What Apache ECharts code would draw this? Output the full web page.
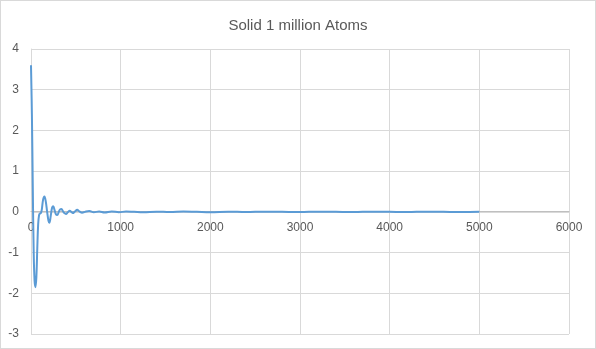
<!DOCTYPE html>
<html><head><meta charset="utf-8">
<script src="https://cdn.jsdelivr.net/npm/echarts@6/dist/echarts.min.js"></script>
<style>
html,body{margin:0;padding:0;background:#fff;}
#c{width:596px;height:349px;box-sizing:border-box;border:1px solid #d9d9d9;}
</style></head>
<body><div id="c"></div>
<script>
const title = "Solid 1 million Atoms";
const xValues = [0,10,20,30,40,50,60,70,80,90,100,110,120,135,150,165,180,195,205,220,235,248,262,278,292,310,325,340,355,372,390,410,432,450,466,490,515,540,570,600,650,700,760,820,900,980,1060,1150,1250,1400,1550,1700,1850,2000,2200,2400,2600,2800,3000,3200,3400,3600,3800,4000,4200,4400,4600,4800,5000];
const yValues = [3.6,2.4,0.6,-1.0,-1.7,-1.85,-1.6,-0.9,-0.3,-0.08,-0.04,-0.03,0.05,0.3,0.38,0.25,0.0,-0.22,-0.27,-0.1,0.1,0.14,0.05,-0.06,-0.08,0.0,0.06,0.07,0.02,-0.03,-0.05,-0.01,0.03,0.0,-0.03,0.01,0.05,0.01,-0.02,0.0,0.02,-0.01,0.01,-0.015,0.01,-0.01,0.01,0.0,-0.01,0.005,-0.005,0.01,0.0,-0.01,0.005,-0.005,0.005,0.0,-0.005,0.005,0.0,-0.005,0.005,0.0,-0.005,0.005,0.0,-0.005,0.0];
const xTicks = {min:0,max:6000,interval:1000};
const yTicks = {min:-3,max:4,interval:1};

const W = 596, H = 349;
const gridTop = 48, gridBottom = 14;
const plotH = H - gridTop - gridBottom;
const zeroOffset = plotH * (0 - yTicks.min) / (yTicks.max - yTicks.min);

const chart = echarts.init(document.getElementById('c'), null, {renderer:'canvas'});
const pts = xValues.map((x,i)=>[x,yValues[i]]);
const txt = '#595959', grid = '#d9d9d9';
chart.setOption({
  animation:false,
  title:{text:title,left:'center',top:12,textStyle:{fontFamily:'Liberation Sans',fontSize:15,fontWeight:'normal',color:txt}},
  grid:{left:30,right:26,top:gridTop,bottom:gridBottom,containLabel:false},
  xAxis:{type:'value',min:xTicks.min,max:xTicks.max,interval:xTicks.interval,position:'bottom',offset:-zeroOffset,
    axisLine:{show:true,onZero:false,lineStyle:{color:'#bfbfbf'}},axisTick:{show:false},
    axisLabel:{color:txt,fontFamily:'Liberation Sans',fontSize:12,margin:11,formatter:v=>String(v)},
    splitLine:{show:true,lineStyle:{color:grid}}},
  yAxis:{type:'value',min:yTicks.min,max:yTicks.max,interval:yTicks.interval,
    axisLine:{show:true,lineStyle:{color:grid}},axisTick:{show:false},
    axisLabel:{color:txt,fontFamily:'Liberation Sans',fontSize:12,margin:12},
    splitLine:{show:true,lineStyle:{color:grid}}},
  series:[{type:'line',data:pts,showSymbol:false,smooth:0.4,lineStyle:{color:'#5B9BD5',width:2},itemStyle:{color:'#5B9BD5'}}]
});
</script></body></html>
